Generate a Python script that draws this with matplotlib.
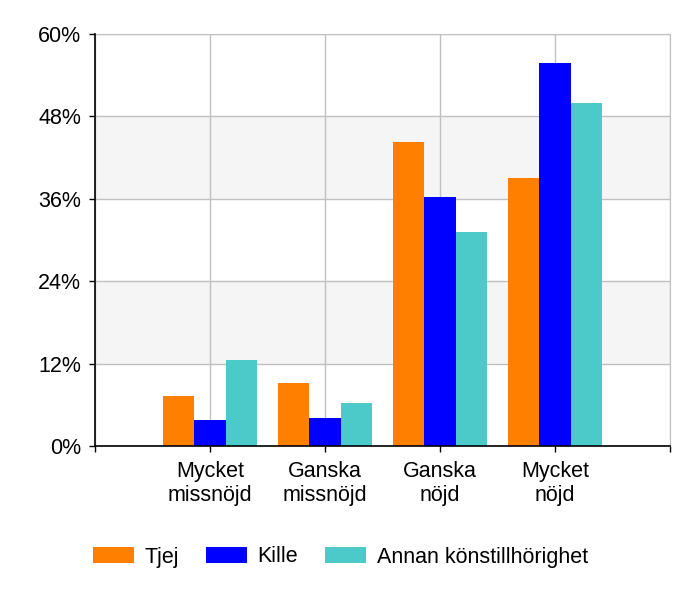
import numpy as np
import matplotlib.pyplot as plt

plt.rcParams['font.family'] = ['Liberation Sans', 'DejaVu Sans']

categories = ["Mycket\nmissnöjd", "Ganska\nmissnöjd", "Ganska\nnöjd", "Mycket\nnöjd"]
series_names = ["Tjej", "Kille", "Annan könstillhörighet"]
tjej = [7.3, 9.2, 44.3, 39.1]
kille = [3.8, 4.1, 36.2, 55.8]
annan = [12.5, 6.2, 31.2, 50.0]
colors = ["#ff8000", "#0000ff", "#4cc9c9"]
yticks = [0, 12, 24, 36, 48, 60]

fig = plt.figure(figsize=(7, 6), dpi=100)
ax = fig.add_axes([95 / 700, 1 - 446 / 600, 575 / 700, 412 / 600])

# shaded bands
for lo in (12, 36):
    ax.axhspan(lo, lo + 12, color="#f5f5f5", zorder=0, lw=0)

x = np.arange(1, len(categories) + 1)
w = 0.27
for i, (vals, name) in enumerate(zip([tjej, kille, annan], series_names)):
    ax.bar(x + (i - 1) * w, vals, width=w, color=colors[i], label=name, zorder=3)

ax.set_xlim(0, 5)
ax.set_ylim(0, 60)
ax.set_yticks(yticks)
ax.set_yticklabels([f"{t}%" for t in yticks])
ax.set_xticks([0, 1, 2, 3, 4, 5])
ax.set_xticklabels([""] + categories + [""])

ax.grid(True, color="#c0c0c0", lw=1, zorder=1)
ax.set_axisbelow(True)
for s in ("top", "right"):
    ax.spines[s].set_color("#c0c0c0")
for s in ("left", "bottom"):
    ax.spines[s].set_color("black")
    ax.spines[s].set_linewidth(1.2)
    ax.spines[s].set_zorder(4)

ax.tick_params(axis="both", labelsize=15.5, length=4, width=1, color="black")
ax.tick_params(axis="y", pad=6)
ax.tick_params(axis="x", pad=7)
for lbl in ax.get_xticklabels():
    lbl.set_linespacing(1.2)

fig.legend(loc="center left", bbox_to_anchor=(82 / 700, 1 - 557 / 600), ncol=3,
           frameon=False, fontsize=15.5, handlelength=1.9, handleheight=0.8,
           handletextpad=0.5, columnspacing=1.25, borderpad=0)

fig.savefig("out.png", dpi=100)
